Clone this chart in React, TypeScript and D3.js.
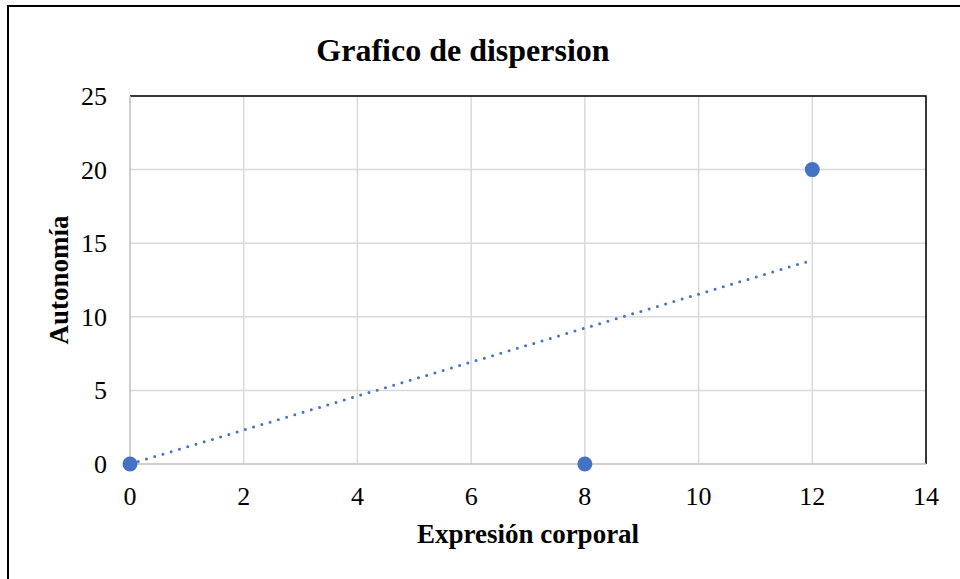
import React from 'react';
import * as d3 from 'd3';

// data
const xValues = [0, 8, 12];
const yValues = [0, 0, 20];
const xTicks = [0, 2, 4, 6, 8, 10, 12, 14];
const yTicks = [0, 5, 10, 15, 20, 25];
const chartTitle = 'Grafico de dispersion';
const xTitle = 'Expresión corporal';
const yTitle = 'Autonomía';

const W = 960;
const H = 579;
const FONT = '"Liberation Serif", "Times New Roman", serif';
const BLUE = '#4472C4';

const App = () => {
  const x = d3.scaleLinear().domain([0, 14]).range([130, 926]);
  const y = d3.scaleLinear().domain([0, 25]).range([464, 96]);

  // linear trendline, intercept set to 0 (like Excel)
  const sxy = d3.sum(xValues, (v, i) => v * yValues[i]);
  const sxx = d3.sum(xValues, v => v * v);
  const slope = sxy / sxx;
  const xMin = d3.min(xValues);
  const xMax = d3.max(xValues);
  const trend = d3
    .line()
    .x(d => x(d[0]))
    .y(d => y(d[1]))([
    [xMin, slope * xMin],
    [xMax, slope * xMax],
  ]);

  return (
    <div style={{ position: 'absolute', left: 0, top: 0 }}>
      <svg width={W} height={H} style={{ display: 'block', background: '#fff' }}>
        <rect x={8} y={6} width={W + 10} height={H + 10} fill="#fff" stroke="#000" strokeWidth={2} />

        <text x={463} y={61} textAnchor="middle" fontFamily={FONT} fontWeight="bold" fontSize={32}>
          {chartTitle}
        </text>

        {/* gridlines */}
        {xTicks.slice(1).map(t => (
          <line key={'gx' + t} x1={x(t)} x2={x(t)} y1={y(25)} y2={y(0)} stroke="#d9d9d9" strokeWidth={1.5} />
        ))}
        {yTicks.slice(1).map(t => (
          <line key={'gy' + t} x1={x(0)} x2={x(14)} y1={y(t)} y2={y(t)} stroke="#d9d9d9" strokeWidth={1.5} />
        ))}

        {/* plot border top/right */}
        <path
          d={`M${x(0)},${y(25)}H${x(14)}V${y(0)}`}
          fill="none"
          stroke="#000"
          strokeWidth={1.5}
        />
        {/* axes */}
        <line x1={x(0)} x2={x(0)} y1={y(25)} y2={y(0)} stroke="#bfbfbf" strokeWidth={1.5} />
        <line x1={x(0)} x2={x(14)} y1={y(0)} y2={y(0)} stroke="#bfbfbf" strokeWidth={1.5} />

        {/* tick labels */}
        {yTicks.map(t => (
          <text key={'ty' + t} x={107} y={y(t) + 9} textAnchor="end" fontFamily={FONT} fontSize={26}>
            {t}
          </text>
        ))}
        {xTicks.map(t => (
          <text key={'tx' + t} x={x(t)} y={505} textAnchor="middle" fontFamily={FONT} fontSize={26}>
            {t}
          </text>
        ))}

        {/* trendline */}
        <path d={trend} fill="none" stroke={BLUE} strokeWidth={3} strokeDasharray="0 8.6" strokeLinecap="round" />

        {/* points */}
        {xValues.map((v, i) => (
          <circle key={'p' + i} cx={x(v)} cy={y(yValues[i])} r={7.5} fill={BLUE} />
        ))}

        <text x={528} y={543} textAnchor="middle" fontFamily={FONT} fontWeight="bold" fontSize={27}>
          {xTitle}
        </text>
        <text
          transform={`translate(68,${(y(0) + y(25)) / 2}) rotate(-90)`}
          textAnchor="middle"
          fontFamily={FONT}
          fontWeight="bold"
          fontSize={27}
        >
          {yTitle}
        </text>
      </svg>
    </div>
  );
};

export default App;
